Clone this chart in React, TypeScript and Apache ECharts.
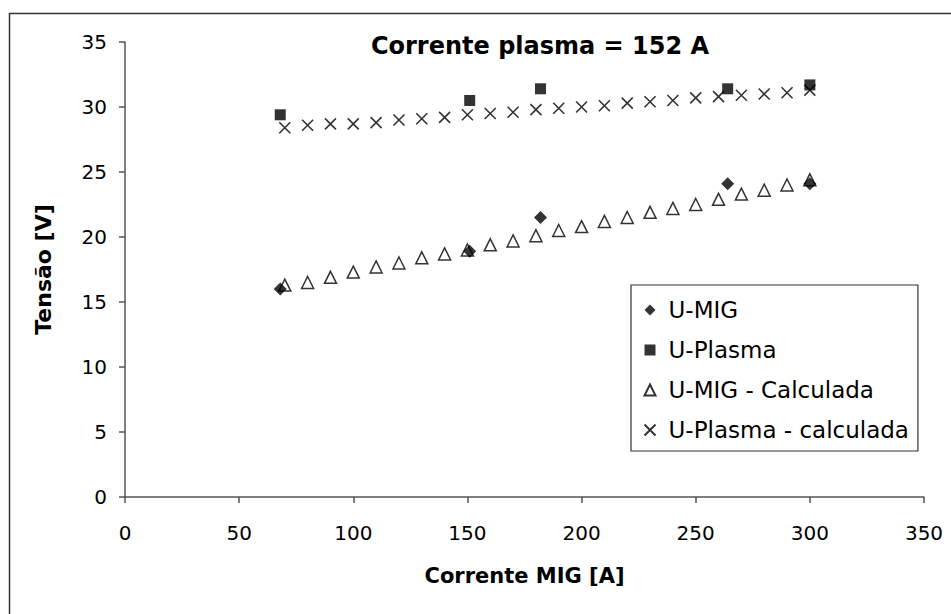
import React, { useEffect, useRef } from "react";
import * as echarts from "echarts";

const migX = [68, 151, 182, 264, 300];
const migY = [16.0, 18.9, 21.5, 24.1, 24.1];
const plasmaX = [68, 151, 182, 264, 300];
const plasmaY = [29.4, 30.5, 31.4, 31.4, 31.7];
const calcX = [70, 80, 90, 100, 110, 120, 130, 140, 150, 160, 170, 180, 190, 200, 210, 220, 230, 240, 250, 260, 270, 280, 290, 300];
const migCalcY = [16.3, 16.5, 16.9, 17.3, 17.7, 18.0, 18.4, 18.7, 19.0, 19.4, 19.7, 20.1, 20.5, 20.8, 21.2, 21.5, 21.9, 22.2, 22.5, 22.9, 23.3, 23.6, 24.0, 24.4];
const plasmaCalcY = [28.4, 28.6, 28.7, 28.7, 28.8, 29.0, 29.1, 29.2, 29.4, 29.5, 29.6, 29.8, 29.9, 30.0, 30.1, 30.3, 30.4, 30.5, 30.7, 30.8, 30.9, 31.0, 31.1, 31.3];

const SANS = "'Liberation Sans', Arial, sans-serif";
const WIDE = "'DejaVu Sans', 'Liberation Sans', sans-serif";
const CROSS = "path://M0,0L10,10M10,0L0,10";

const pairs = (xs: number[], ys: number[]) => xs.map((x, i) => [x, ys[i]]);

export default function App() {
  const ref = useRef<HTMLDivElement>(null);
  useEffect(() => {
    if (!ref.current) return;
    const chart = echarts.init(ref.current, null, { renderer: "svg" });
    chart.setOption({
      animation: false,
      backgroundColor: "#ffffff",
      textStyle: { fontFamily: SANS, color: "#000" },
      title: {
        text: "Corrente plasma = 152 A",
        left: 535,
        top: 29,
        textAlign: "center",
        textStyle: { fontFamily: WIDE, fontSize: 24, fontWeight: "bold", color: "#000" },
      },
      graphic: [
        {
          type: "rect",
          shape: { x: 9.5, y: 13.5, width: 960, height: 620 },
          style: { fill: "none", stroke: "#333", lineWidth: 1.5 },
          silent: true,
        },
      ],
      grid: { left: 125, right: 27, top: 42, bottom: 117, containLabel: false },
      xAxis: {
        type: "value",
        min: 0,
        max: 350,
        interval: 50,
        name: "Corrente MIG [A]",
        nameLocation: "middle",
        nameGap: 68,
        nameTextStyle: { fontFamily: WIDE, fontSize: 21, fontWeight: "bold", color: "#000" },
        axisLine: { show: true, lineStyle: { color: "#555", width: 1.5 } },
        axisTick: { show: true, length: 6, lineStyle: { color: "#555", width: 1.5 } },
        axisLabel: { fontFamily: WIDE, fontSize: 20, color: "#000", margin: 26 },
        splitLine: { show: false },
      },
      yAxis: {
        type: "value",
        min: 0,
        max: 35,
        interval: 5,
        name: "Tensão [V]",
        nameLocation: "middle",
        nameGap: 71,
        nameRotate: 90,
        nameTextStyle: { fontFamily: WIDE, fontSize: 22, fontWeight: "bold", color: "#000" },
        axisLine: { show: true, lineStyle: { color: "#555", width: 1.5 } },
        axisTick: { show: true, length: 6, lineStyle: { color: "#555", width: 1.5 } },
        axisLabel: { fontFamily: WIDE, fontSize: 20, color: "#000", margin: 18 },
        splitLine: { show: false },
      },
      legend: {
        orient: "vertical",
        left: 631,
        top: 285,
        padding: [13, 9, 9, 11],
        itemGap: 16,
        itemWidth: 11,
        itemHeight: 11,
        borderColor: "#333",
        borderWidth: 1.2,
        backgroundColor: "#fff",
        textStyle: { fontFamily: WIDE, fontSize: 23, lineHeight: 24, color: "#000", padding: [0, 0, 0, 8] },
        data: ["U-MIG", "U-Plasma", "U-MIG - Calculada", "U-Plasma - calculada"],
      },
      series: [
        {
          name: "U-MIG",
          type: "scatter",
          symbol: "diamond",
          symbolSize: 13,
          itemStyle: { color: "#000" },
          data: pairs(migX, migY),
          z: 4,
        },
        {
          name: "U-Plasma",
          type: "scatter",
          symbol: "rect",
          symbolSize: 11,
          itemStyle: { color: "#000" },
          data: pairs(plasmaX, plasmaY),
          z: 4,
        },
        {
          name: "U-MIG - Calculada",
          type: "scatter",
          symbol: "triangle",
          symbolSize: 12,
          itemStyle: { color: "#fff", borderColor: "#000", borderWidth: 1.5 },
          data: pairs(calcX, migCalcY),
          z: 3,
        },
        {
          name: "U-Plasma - calculada",
          type: "scatter",
          symbol: CROSS,
          symbolSize: 11,
          itemStyle: { color: "none", borderColor: "#000", borderWidth: 1.6 },
          data: pairs(calcX, plasmaCalcY),
          z: 3,
        },
      ],
    });
    return () => chart.dispose();
  }, []);
  return <div ref={ref} style={{ width: 951, height: 614, position: "absolute", left: 0, top: 0 }} />;
}
